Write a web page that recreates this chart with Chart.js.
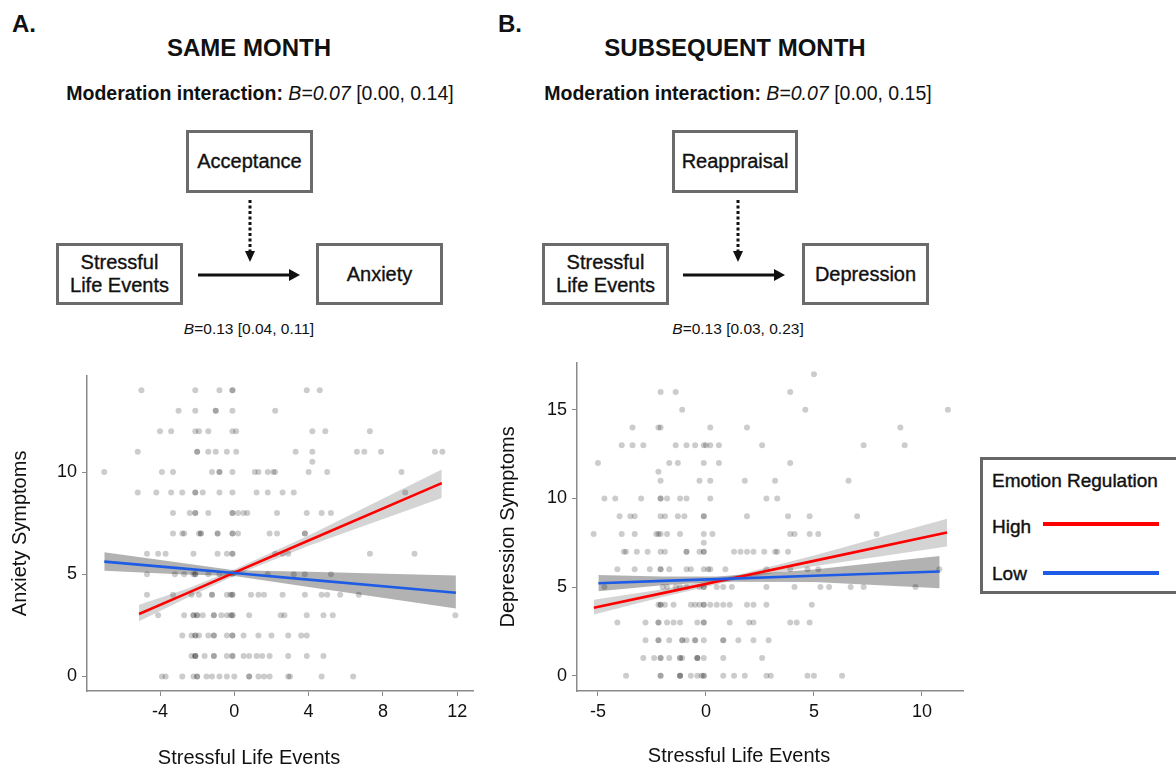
<!DOCTYPE html>
<html>
<head>
<meta charset="utf-8">
<script src="https://cdn.jsdelivr.net/npm/chart.js@4/dist/chart.umd.min.js"></script>
<style>
  body { margin: 0; background: #fff; width: 1176px; height: 767px; overflow: hidden; position: relative;
         font-family: "Liberation Sans", Arial, Helvetica, sans-serif; color: #111; }
  .t { position: absolute; line-height: 1; white-space: nowrap; }
  .c { text-align: center; }
  .box { position: absolute; box-sizing: border-box; border: 3.5px solid #6b6b6b; display: flex;
         align-items: center; justify-content: center; text-align: center; font-size: 20px; line-height: 23px;
         -webkit-text-stroke: 0.35px #111; }
  canvas { position: absolute; }
  .legend { position: absolute; left: 980px; top: 457px; width: 230px; height: 137px; box-sizing: border-box;
            border: 3.5px solid #666; }
  .lg { font-size: 19px; -webkit-text-stroke: 0.4px #111; }
</style>
</head>
<body>
<!-- panel A header -->
<div class="t" style="left:12px;top:12px;font-size:24px;font-weight:bold;">A.</div>
<div class="t c" style="left:99px;top:36px;width:300px;font-size:24px;font-weight:bold;">SAME MONTH</div>
<div class="t c" style="left:40px;top:84px;width:440px;font-size:19.5px;"><b>Moderation interaction:</b> <i>B=0.07</i> [0.00, 0.14]</div>
<div class="box" style="left:186px;top:130px;width:127px;height:63px;">Acceptance</div>
<div class="box" style="left:56px;top:243px;width:127px;height:62px;">Stressful<br>Life Events</div>
<div class="box" style="left:316px;top:243px;width:127px;height:62px;">Anxiety</div>
<div class="t c" style="left:149px;top:321px;width:200px;font-size:15.5px;"><i>B</i>=0.13 [0.04, 0.11]</div>

<!-- panel B header -->
<div class="t" style="left:498px;top:12px;font-size:24px;font-weight:bold;">B.</div>
<div class="t c" style="left:535px;top:36px;width:400px;font-size:24px;font-weight:bold;">SUBSEQUENT MONTH</div>
<div class="t c" style="left:518px;top:84px;width:440px;font-size:19.5px;"><b>Moderation interaction:</b> <i>B=0.07</i> [0.00, 0.15]</div>
<div class="box" style="left:672px;top:130px;width:126px;height:63px;">Reappraisal</div>
<div class="box" style="left:542px;top:243px;width:127px;height:62px;">Stressful<br>Life Events</div>
<div class="box" style="left:802px;top:243px;width:127px;height:62px;">Depression</div>
<div class="t c" style="left:638px;top:321px;width:200px;font-size:15.5px;"><i>B</i>=0.13 [0.03, 0.23]</div>

<svg style="position:absolute;left:0;top:0" width="1176" height="345">
  <g stroke="#111" stroke-width="3" fill="none">
    <line x1="198" y1="275" x2="291" y2="275"/>
    <line x1="250" y1="200" x2="250" y2="253" stroke-dasharray="3 2.5"/>
    <line x1="683" y1="275" x2="776" y2="275"/>
    <line x1="738" y1="200" x2="738" y2="253" stroke-dasharray="3 2.5"/>
  </g>
  <g fill="#111">
    <polygon points="289,269 300,275 289,281"/>
    <polygon points="245,251 255,251 250,262"/>
    <polygon points="774,269 785,275 774,281"/>
    <polygon points="733,251 743,251 738,262"/>
  </g>
</svg>

<canvas id="chartA" width="490" height="407" style="left:0;top:360px;"></canvas>
<canvas id="chartB" width="490" height="420" style="left:490px;top:347px;"></canvas>

<div class="t c" style="left:99px;top:747px;width:300px;font-size:20px;">Stressful Life Events</div>
<div class="t c" style="left:589px;top:745px;width:300px;font-size:20px;">Stressful Life Events</div>

<div class="legend"></div>
<div class="t lg" style="left:992px;top:471px;">Emotion Regulation</div>
<div class="t lg" style="left:992px;top:517px;">High</div>
<div class="t lg" style="left:992px;top:564px;">Low</div>
<div style="position:absolute;left:1043px;top:522px;width:116px;height:3.5px;background:#ff0000;"></div>
<div style="position:absolute;left:1043px;top:571px;width:116px;height:3.5px;background:#1f5ce6;"></div>

<script>
// ---- Panel A: same month, anxiety symptoms (y level -> stressful life events x values)
const anxietyLevels = [14, 13, 12, 11, 10.5, 10, 9, 8, 7, 6, 5, 4, 3, 2, 1, 0];
const anxietyEvents = [
  [-5.0, -2.1, -0.8, -0.1, -0.1, 3.9, 4.6],
  [-3.0, -2.1, -1.0, -1.0, -0.1, 2.2],
  [-4.0, -3.4, -2.1, -1.9, -1.4, -0.1, 0.1, 4.2, 4.9, 7.3],
  [-5.2, -2.0, -2.0, -1.4, -1.0, -0.4, 0.1, 3.3, 4.2, 6.6, 7.0, 7.9, 10.8, 11.2],
  [4.2],
  [-7.0, -3.9, -3.3, -1.2, -0.8, -0.8, -0.1, 1.1, 1.3, 1.8, 2.1, 2.2, 4.0, 5.0, 9.0],
  [-5.2, -4.2, -3.4, -2.8, -2.1, -2.1, -1.7, -0.8, -0.1, 1.2, 1.8, 2.6, 3.2, 9.2],
  [-3.3, -2.4, -2.1, -2.1, -1.4, -0.1, -0.1, 0.2, 0.5, 0.7, 2.3, 3.9, 4.7, 5.2],
  [-3.3, -2.8, -2.7, -1.9, -1.8, -1.8, -0.9, -0.9, -0.1, -0.1, 0.2, 1.9, 2.3, 3.8, 3.8],
  [-4.7, -4.1, -3.7, -2.2, -0.9, -0.4, -0.1, -0.1, 2.2, 2.6, 2.9, 7.3, 9.7],
  [-4.7, -3.2, -2.7, -2.2, -2.1, -2.1, -1.4, -0.8, -0.1, 1.8, 3.2, 3.8, 5.2],
  [-4.7, -3.3, -2.3, -1.9, -1.2, -1.2, -0.4, -0.2, -0.1, -0.1, 0.9, 1.3, 1.6, 2.6, 3.8, 4.7, 5.0, 5.7, 6.7],
  [-4.1, -2.7, -2.2, -2.2, -2.0, -2.0, -1.7, -1.1, -1.1, -0.7, -0.4, -0.2, -0.1, -0.1, 0.8, 2.5, 2.7, 3.9, 4.8, 5.3, 11.9],
  [-2.8, -2.3, -2.1, -2.1, -1.9, -1.4, -1.1, -1.1, -0.4, -0.1, -0.1, 0.5, 1.3, 2.0, 2.9, 3.6, 3.9],
  [-2.3, -2.1, -2.1, -2.1, -1.6, -1.1, -1.1, -0.4, -0.1, -0.1, 0.5, 0.8, 1.2, 1.5, 1.9, 2.9, 3.9, 4.8],
  [-3.9, -3.7, -2.8, -2.2, -2.0, -2.0, -1.5, -1.2, -0.8, -0.4, 0.0, 0.8, 0.8, 1.3, 1.6, 1.9, 2.9, 3.0, 4.7, 6.4]
];
const anxHighX = [-5.13, -2.5, 0, 4, 11.17];
const anxHighFit = [3.06, 4.09, 5.08, 6.65, 9.46];
const anxHighLow = [2.70, 3.87, 4.93, 6.40, 8.73];
const anxHighUp = [3.51, 4.31, 5.23, 6.90, 10.13];
const anxLowX = [-7.0, -3, 0, 4, 11.93];
const anxLowFit = [5.62, 5.30, 5.06, 4.74, 4.10];
const anxLowLow = [5.17, 5.00, 4.92, 4.38, 3.33];
const anxLowUp = [6.08, 5.58, 5.20, 5.12, 4.94];
const anxXTicks = [-4, 0, 4, 8, 12];
const anxYTicks = [0, 5, 10];

// ---- Panel B: subsequent month, depression symptoms
const depLevels = [17, 16, 15, 14, 13, 12, 11.5, 11, 10, 9, 8, 7.5, 7, 6, 5, 4, 3, 2, 1, 0];
const depEvents = [
  [5.0],
  [-2.1, -1.4, 3.9],
  [-1.1, 4.6, 11.2],
  [-3.4, -2.2, -2.1, 0.2, 1.9, 9.0],
  [-3.9, -3.4, -2.9, -1.4, -0.9, -0.5, -0.1, 0.0, 0.2, 0.6, 2.6, 7.3, 9.2],
  [-5.0, -1.7, -1.3, -0.1, 0.6, 3.9],
  [-2.2],
  [-2.1, -0.3, 0.2, 1.8, 3.2, 6.6],
  [-4.7, -4.2, -3.0, -2.1, -2.1, -1.8, -1.2, -0.9, 0.2, 2.8, 3.3],
  [-4.0, -3.5, -3.3, -2.1, -1.9, -1.3, -1.0, -0.1, -0.1, 1.9, 3.8, 4.8, 7.0],
  [-5.2, -3.9, -3.3, -2.3, -2.2, -2.1, -1.8, -1.2, -0.1, 0.3, 3.9, 4.1, 4.8, 5.2, 7.9],
  [-0.1],
  [-3.8, -3.7, -3.2, -2.7, -2.1, -1.9, -0.9, -0.9, -0.3, -0.1, -0.1, 1.3, 1.6, 1.9, 2.2, 2.7, 3.2, 3.3, 3.8],
  [-4.1, -3.3, -2.6, -2.1, -2.1, -1.7, -0.9, -0.7, -0.1, 0.1, 0.2, 0.9, 2.8, 3.9, 4.7, 5.2, 10.8],
  [-4.7, -2.0, -1.8, -1.4, -1.2, -0.9, -0.3, -0.1, -0.1, 0.5, 0.8, 1.2, 2.8, 4.1, 5.3, 5.7, 6.7, 7.3, 9.7],
  [-2.2, -2.1, -2.1, -1.9, -1.5, -0.7, -0.5, -0.3, -0.1, -0.1, 0.2, 0.5, 0.8, 1.1, 1.9, 2.2, 2.8, 4.9],
  [-4.1, -2.8, -2.2, -2.2, -1.8, -1.5, -1.2, -0.4, -0.1, -0.1, 1.1, 2.0, 2.2, 3.9, 4.2, 4.8],
  [-2.8, -2.2, -2.2, -1.7, -1.1, -1.1, -0.9, -0.5, -0.5, -0.1, 0.8, 0.8, 1.5, 2.2, 2.9],
  [-2.9, -2.4, -2.1, -2.1, -1.7, -1.2, -1.2, -1.1, -0.4, -0.4, -0.4, -0.1, 0.8, 2.6],
  [-3.7, -2.1, -2.1, -1.2, -1.2, -1.2, -0.7, -0.4, -0.2, -0.1, -0.1, 0.8, 1.3, 1.8, 2.8, 3.0, 4.7, 5.0, 6.3]
];
const depHighX = [-5.19, -2, 1.5, 5, 11.16];
const depHighFit = [3.83, 4.66, 5.57, 6.48, 8.08];
const depHighLow = [3.46, 4.44, 5.44, 6.18, 7.29];
const depHighUp = [4.29, 4.88, 5.70, 6.78, 8.86];
const depLowX = [-4.98, -2, 0.5, 5, 10.82];
const depLowFit = [5.22, 5.35, 5.45, 5.64, 5.88];
const depLowLow = [4.76, 5.10, 5.30, 5.29, 4.93];
const depLowUp = [5.68, 5.60, 5.60, 5.99, 6.76];
const depXTicks = [-5, 0, 5, 10];
const depYTicks = [0, 5, 10, 15];

const RED = '#ff0000';
const BLUE = '#1f5ce6';
const AXIS = '#8a8a8a';

function pts(xs, ys) { return xs.map((x, i) => ({x: x, y: ys[i]})); }
function scatterPts(levels, events) {
  const out = [];
  levels.forEach((lv, i) => events[i].forEach(x => out.push({x: x, y: lv})));
  return out;
}

function band(xs, lo, up, color) {
  return [
    {data: pts(xs, up), showLine: true, borderWidth: 0, pointRadius: 0, fill: '+1', backgroundColor: color, order: 3},
    {data: pts(xs, lo), showLine: true, borderWidth: 0, pointRadius: 0, fill: false, order: 3}
  ];
}

function makeChart(id, cfg) {
  const datasets = [
    ...band(cfg.highX, cfg.highLow, cfg.highUp, 'rgba(0,0,0,0.17)'),
    ...band(cfg.lowX, cfg.lowLow, cfg.lowUp, 'rgba(0,0,0,0.30)'),
    {data: scatterPts(cfg.levels, cfg.events), pointRadius: 3, pointBackgroundColor: 'rgba(0,0,0,0.2)',
     pointBorderWidth: 0, order: 2},
    {data: pts(cfg.highX, cfg.highFit), showLine: true, borderColor: RED, borderWidth: 2.6, pointRadius: 0, order: 1},
    {data: pts(cfg.lowX, cfg.lowFit), showLine: true, borderColor: BLUE, borderWidth: 2.6, pointRadius: 0, order: 0}
  ];
  return new Chart(document.getElementById(id), {
    type: 'scatter',
    data: {datasets: datasets},
    options: {
      responsive: false,
      animation: false,
      devicePixelRatio: 1,
      layout: {padding: {top: 7, right: 17, left: 0, bottom: 0}},
      plugins: {legend: {display: false}, tooltip: {enabled: false}},
      scales: {
        x: {
          type: 'linear', min: cfg.xMin, max: cfg.xMax,
          afterFit: s => { s.height = 76; },
          afterBuildTicks: s => { s.ticks = cfg.xTicks.map(v => ({value: v})); },
          grid: {drawOnChartArea: false, drawTicks: true, tickLength: 5, color: AXIS},
          border: {color: AXIS, width: 1.5},
          ticks: {color: '#111', padding: 5, font: {family: 'Liberation Sans', size: 18}}
        },
        y: {
          type: 'linear', min: cfg.yMin, max: cfg.yMax,
          afterFit: s => { s.width = 87; },
          afterBuildTicks: s => { s.ticks = cfg.yTicks.map(v => ({value: v})); },
          grid: {drawOnChartArea: false, drawTicks: true, tickLength: 5, color: AXIS},
          border: {color: AXIS, width: 1.5},
          ticks: {color: '#111', padding: 5, font: {family: 'Liberation Sans', size: 18}},
          title: {display: true, text: cfg.yTitle, color: '#111', padding: {top: cfg.yTitlePad, bottom: 0},
                  font: {family: 'Liberation Sans', size: 20, lineHeight: 1}}
        }
      }
    }
  });
}

makeChart('chartA', {
  levels: anxietyLevels, events: anxietyEvents,
  highX: anxHighX, highFit: anxHighFit, highLow: anxHighLow, highUp: anxHighUp,
  lowX: anxLowX, lowFit: anxLowFit, lowLow: anxLowLow, lowUp: anxLowUp,
  xTicks: anxXTicks, yTicks: anxYTicks,
  xMin: -7.93, xMax: 12.85, yMin: -0.71, yMax: 14.71,
  yTitle: 'Anxiety Symptoms', yTitlePad: 10
});

makeChart('chartB', {
  levels: depLevels, events: depEvents,
  highX: depHighX, highFit: depHighFit, highLow: depHighLow, highUp: depHighUp,
  lowX: depLowX, lowFit: depLowFit, lowLow: depLowLow, lowUp: depLowUp,
  xTicks: depXTicks, yTicks: depYTicks,
  xMin: -5.97, xMax: 11.9, yMin: -0.86, yMax: 17.65,
  yTitle: 'Depression Symptoms', yTitlePad: 8
});
</script>
</body>
</html>
